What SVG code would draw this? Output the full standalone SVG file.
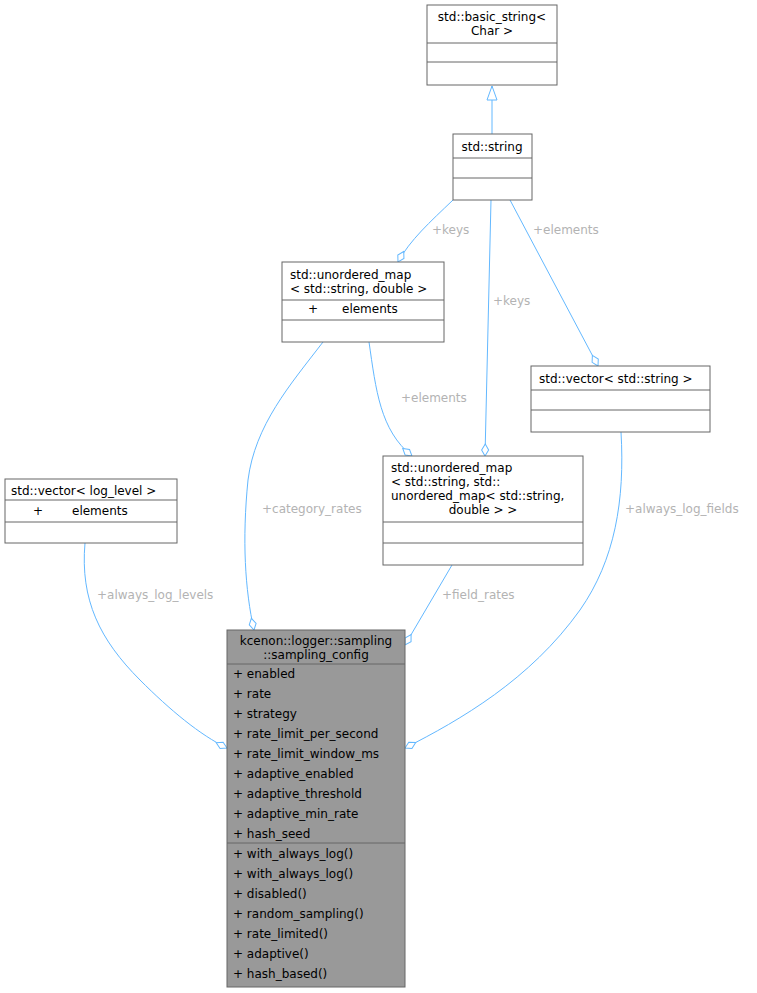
<svg xmlns="http://www.w3.org/2000/svg" width="757" height="993" viewBox="0 0 757 993">
<style>
.b{fill:#fff;stroke:#666;stroke-width:1}
.m{fill:#999;stroke:#666;stroke-width:1}
text{font-family:"DejaVu Sans",sans-serif;font-size:12px;fill:#000}
.c{text-anchor:middle}
.l{font-size:12px;fill:#b3b3b3}
.e{fill:none;stroke:#63b8ff;stroke-width:1}
</style>
<defs>
<marker id="d" markerUnits="userSpaceOnUse" markerWidth="16" markerHeight="10" refX="13" refY="4.5" orient="auto"><path d="M1,4.5 L7,1 L13,4.5 L7,8 Z" fill="#fff" stroke="#63b8ff"/></marker>
<marker id="t" markerUnits="userSpaceOnUse" markerWidth="16" markerHeight="12" refX="15" refY="6" orient="auto"><path d="M1,1 L15,6 L1,11 Z" fill="#fff" stroke="#63b8ff"/></marker>
</defs>
<g id="edges">
<path class="e" d="M492,134 L492,86" marker-end="url(#t)"/>
<path class="e" d="M453,200 C430,222 410,240 398,262" marker-end="url(#d)"/>
<text class="l" x="432" y="234">+keys</text>
<path class="e" d="M491,200 L485,456" marker-end="url(#d)"/>
<text class="l" x="493" y="305">+keys</text>
<path class="e" d="M510,200 L598,366" marker-end="url(#d)"/>
<text class="l" x="533" y="234">+elements</text>
<path class="e" d="M369,342 C376,390 380,430 412,456" marker-end="url(#d)"/>
<text class="l" x="401" y="402">+elements</text>
<path class="e" d="M323,342 C290,385 255,425 248,480 C242,540 245,590 254,630" marker-end="url(#d)"/>
<text class="l" x="262" y="513">+category_rates</text>
<path class="e" d="M452,565 L405,645" marker-end="url(#d)"/>
<text class="l" x="442" y="599">+field_rates</text>
<path class="e" d="M621,432 C625,500 615,560 580,610 C530,680 460,720 405,748" marker-end="url(#d)"/>
<text class="l" x="625" y="513">+always_log_fields</text>
<path class="e" d="M85,543 C80,600 100,640 140,680 C170,710 200,735 227,748" marker-end="url(#d)"/>
<text class="l" x="97" y="599">+always_log_levels</text>
</g>
<g id="basic_string">
<rect class="b" x="427" y="5" width="130" height="80"/>
<path d="M427,43H557M427,62H557" stroke="#666"/>
<text class="c" x="492" y="21">std::basic_string&lt;</text>
<text class="c" x="492" y="35">Char &gt;</text>
</g>
<g id="string">
<rect class="b" x="453" y="134" width="79" height="66"/>
<path d="M453,158H532M453,178H532" stroke="#666"/>
<text class="c" x="492" y="151">std::string</text>
</g>
<g id="umap_double">
<rect class="b" x="282" y="262" width="162" height="80"/>
<path d="M282,300H444M282,320H444" stroke="#666"/>
<text x="290" y="279">std::unordered_map</text>
<text x="290" y="293">&lt; std::string, double &gt;</text>
<text x="308" y="313">+</text>
<text x="342" y="313">elements</text>
</g>
<g id="vector_string">
<rect class="b" x="531" y="366" width="179" height="66"/>
<path d="M531,390H710M531,410H710" stroke="#666"/>
<text x="539" y="383">std::vector&lt; std::string &gt;</text>
</g>
<g id="umap_nested">
<rect class="b" x="383" y="456" width="200" height="109"/>
<path d="M383,522H583M383,543H583" stroke="#666"/>
<text x="391" y="472">std::unordered_map</text>
<text x="391" y="486">&lt; std::string, std::</text>
<text x="391" y="500">unordered_map&lt; std::string,</text>
<text class="c" x="483" y="514">double &gt; &gt;</text>
</g>
<g id="vector_log_level">
<rect class="b" x="5" y="479" width="172" height="64"/>
<path d="M5,500H177M5,522H177" stroke="#666"/>
<text x="11" y="495">std::vector&lt; log_level &gt;</text>
<text x="33" y="515">+</text>
<text x="72" y="515">elements</text>
</g>
<g id="sampling_config">
<rect class="m" x="227" y="630" width="178" height="357"/>
<path d="M227,664H405M227,843H405" stroke="#666"/>
<text class="c" x="316" y="645">kcenon::logger::sampling</text>
<text class="c" x="316" y="659">::sampling_config</text>
<text x="233" y="678">+  enabled</text>
<text x="233" y="698">+  rate</text>
<text x="233" y="718">+  strategy</text>
<text x="233" y="738">+  rate_limit_per_second</text>
<text x="233" y="758">+  rate_limit_window_ms</text>
<text x="233" y="778">+  adaptive_enabled</text>
<text x="233" y="798">+  adaptive_threshold</text>
<text x="233" y="818">+  adaptive_min_rate</text>
<text x="233" y="838">+  hash_seed</text>
<text x="233" y="858">+  with_always_log()</text>
<text x="233" y="878">+  with_always_log()</text>
<text x="233" y="898">+  disabled()</text>
<text x="233" y="918">+  random_sampling()</text>
<text x="233" y="938">+  rate_limited()</text>
<text x="233" y="958">+  adaptive()</text>
<text x="233" y="978">+  hash_based()</text>
</g>
</svg>
